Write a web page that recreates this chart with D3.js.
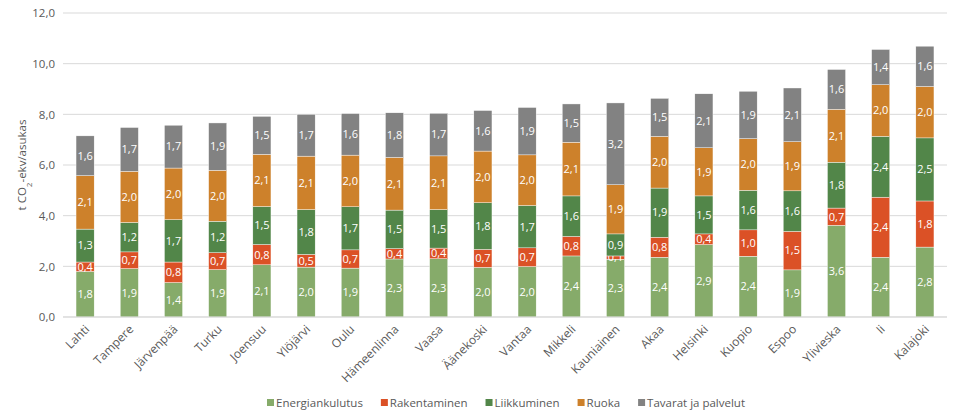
<!DOCTYPE html>
<html><head><meta charset="utf-8">
<script src="https://cdn.jsdelivr.net/npm/d3@7/dist/d3.min.js"></script>
<style>
body{margin:0;background:#fff;}
text{font-family:"Open Sans",sans-serif;}
</style></head>
<body><svg id="c" width="960" height="420"></svg>
<script>
const categories = ["Lahti","Tampere","Järvenpää","Turku","Joensuu","Ylöjärvi","Oulu","Hämeenlinna","Vaasa","Äänekoski","Vantaa","Mikkeli","Kauniainen","Akaa","Helsinki","Kuopio","Espoo","Ylivieska","Ii","Kalajoki"];
const seriesNames = ["Energiankulutus","Rakentaminen","Liikkuminen","Ruoka","Tavarat ja palvelut"];
const energia   = [1.80,1.91,1.36,1.87,2.06,1.97,1.93,2.29,2.30,1.96,1.99,2.41,2.28,2.36,2.86,2.40,1.86,3.62,2.36,2.76];
const rakent    = [0.37,0.66,0.81,0.67,0.80,0.50,0.72,0.41,0.42,0.71,0.74,0.77,0.13,0.79,0.42,1.04,1.52,0.68,2.37,1.82];
const liikk     = [1.30,1.16,1.67,1.24,1.50,1.77,1.70,1.52,1.52,1.84,1.67,1.60,0.87,1.94,1.50,1.56,1.60,1.81,2.40,2.49];
const ruoka     = [2.11,2.02,2.04,2.01,2.06,2.11,2.04,2.08,2.12,2.04,2.00,2.12,1.94,2.04,1.90,2.04,1.94,2.09,2.04,2.03];
const tavarat   = [1.57,1.73,1.69,1.87,1.50,1.65,1.64,1.76,1.68,1.60,1.87,1.51,3.23,1.50,2.13,1.87,2.12,1.57,1.39,1.59];
const yTicks = [0,2,4,6,8,10,12];
const colors = ["#86ab6a","#db5126","#528649","#cd812b","#828282"];

const seriesData = [energia,rakent,liikk,ruoka,tavarat];
const rows = categories.map((c,i)=>{const o={cat:c}; seriesNames.forEach((s,k)=>o[s]=seriesData[k][i]); return o;});
const stack = d3.stack().keys(seriesNames)(rows);

const svg = d3.select("#c");
const m = {l:63, r:13, t:13, b:103};
const W = 960, H = 420;
const x = d3.scaleBand().domain(categories).range([m.l, W-m.r]).paddingInner(0.59).paddingOuter(0.295);
const y = d3.scaleLinear().domain([0,12]).range([H-m.b, m.t]);
const fmt = v => (Math.round(v*10+1e-9)/10).toFixed(1).replace(".",",");

// grid
svg.append("g").selectAll("line").data(yTicks).join("line")
  .attr("x1",m.l).attr("x2",W-m.r).attr("y1",d=>y(d)).attr("y2",d=>y(d))
  .attr("stroke","#d9d9d9").attr("stroke-width",1);

// y axis labels
const yAxis = d3.axisLeft(y).tickValues(yTicks).tickFormat(fmt).tickSize(0).tickPadding(8);
const ya = svg.append("g").attr("transform",`translate(${m.l},0)`).call(yAxis);
ya.select(".domain").remove();
ya.selectAll("text").attr("fill","#595959").style("font-size","11.5px").style("font-family","'Open Sans',sans-serif");

// y title
const yt = svg.append("text").attr("transform",`translate(26,${(y(0)+y(12))/2}) rotate(-90)`)
  .attr("text-anchor","middle").attr("fill","#595959").style("font-size","11.5px");
yt.append("tspan").text("t CO");
yt.append("tspan").text("2").attr("baseline-shift","sub").style("font-size","8px");
yt.append("tspan").text("-ekv/asukas");

// bars
const g = svg.append("g");
stack.forEach((s,k)=>{
  const gs = g.append("g");
  gs.selectAll("rect").data(s).join("rect")
    .attr("x",d=>x(d.data.cat)).attr("width",x.bandwidth())
    .attr("y",d=>y(d[1])).attr("height",d=>y(d[0])-y(d[1]))
    .attr("fill",colors[k]).attr("stroke","#ffffff").attr("stroke-width",0.4);
  gs.selectAll("text").data(s).join("text")
    .attr("x",d=>x(d.data.cat)+x.bandwidth()/2)
    .attr("y",d=>(y(d[0])+y(d[1]))/2)
    .attr("dy","0.35em").attr("text-anchor","middle")
    .attr("fill","#ffffff").style("font-size","11px")
    .text(d=>fmt(d[1]-d[0]));
});

// x axis baseline
svg.append("line").attr("x1",m.l).attr("x2",W-m.r).attr("y1",y(0)).attr("y2",y(0)).attr("stroke","#d9d9d9");

// x labels
const xa = svg.append("g").attr("transform",`translate(0,${y(0)})`)
  .call(d3.axisBottom(x).tickSize(0).tickPadding(0));
xa.select(".domain").remove();
xa.selectAll("text").attr("fill","#595959").style("font-size","12px").style("font-family","'Open Sans',sans-serif")
  .attr("text-anchor","end").attr("dy",0).attr("y",0)
  .attr("transform","translate(5,13) rotate(-45)");

// legend
const lg = svg.append("g");
let cx = 0;
seriesNames.forEach((s,k)=>{
  const it = lg.append("g");
  it.append("rect").attr("x",0).attr("y",-4).attr("width",7).attr("height",7).attr("fill",colors[k]);
  const t = it.append("text").attr("x",9).attr("y",0).attr("dy","0.35em").attr("fill","#595959").style("font-size","11.5px").text(s);
  const w = 9 + t.node().getComputedTextLength();
  it.attr("transform",`translate(${cx},0)`);
  cx += w + 18;
});
cx -= 18;
lg.attr("transform",`translate(${(m.l+W-m.r)/2 - cx/2 + 1},403)`);
</script></body></html>
